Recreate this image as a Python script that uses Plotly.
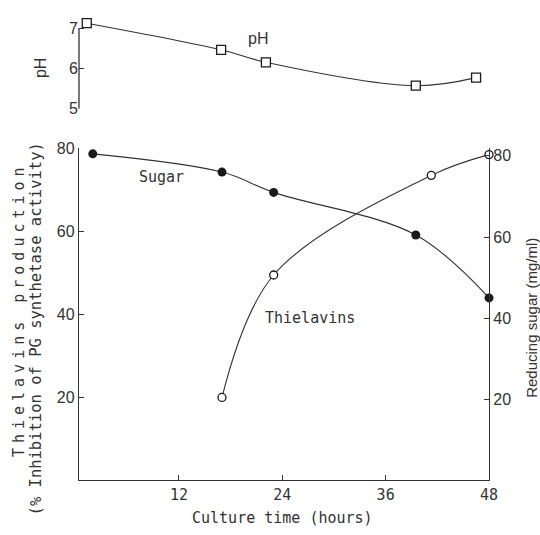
import plotly.graph_objects as go

# Culture time (hours) and measured values
sugar_time = [2, 17, 23, 39.5, 48]
sugar_mg_ml = [80.5, 76, 71, 60.5, 45]

thiel_time = [17, 23, 41.3, 48]
thiel_inhibition = [20, 49.5, 73.5, 78.5]

ph_time = [1.3, 16.9, 22.1, 39.5, 46.5]
ph_value = [7.12, 6.46, 6.15, 5.57, 5.77]

x_ticks = [12, 24, 36, 48]
left_ticks = [20, 40, 60, 80]
right_ticks = [20, 40, 60, 80]
ph_ticks = [5, 6, 7]

W, H = 540, 535
ML, MR = 79, 51
INK = "#333333"
MONO = "DejaVu Sans Mono"
SANS = "Liberation Sans"


def px_x(p):
    return (p - ML) / (W - ML - MR)


def px_y(p):
    return (H - p) / H


fig = go.Figure()

fig.add_trace(go.Scatter(
    x=sugar_time, y=sugar_mg_ml, yaxis="y2", mode="lines+markers",
    line=dict(color=INK, width=1.1, shape="spline", smoothing=1.0),
    marker=dict(symbol="circle", size=9, color="#1a1a1a"),
    cliponaxis=False, showlegend=False, name="Sugar"))

fig.add_trace(go.Scatter(
    x=thiel_time, y=thiel_inhibition, yaxis="y", mode="lines+markers",
    line=dict(color=INK, width=1.1, shape="spline", smoothing=1.0),
    marker=dict(symbol="circle", size=8, color="white",
                line=dict(color="#1a1a1a", width=1.3)),
    cliponaxis=False, showlegend=False, name="Thielavins"))

fig.add_trace(go.Scatter(
    x=ph_time, y=ph_value, yaxis="y3", mode="lines+markers",
    line=dict(color=INK, width=1.1, shape="spline", smoothing=1.0),
    marker=dict(symbol="square", size=9, color="white",
                line=dict(color="#1a1a1a", width=1.3)),
    cliponaxis=False, showlegend=False, name="pH"))

axis_common = dict(showgrid=False, zeroline=False, ticks="inside", ticklen=5,
                   tickwidth=1.2, tickcolor=INK, linecolor=INK, linewidth=1.3)

fig.update_layout(
    width=W, height=H,
    margin=dict(l=ML, r=MR, t=0, b=0),
    paper_bgcolor="white", plot_bgcolor="white",
    xaxis=dict(domain=[0, 1], range=[0.4, 48], tickvals=x_ticks,
               showline=True, anchor="y",
               tickfont=dict(family=MONO, size=15, color=INK), **axis_common),
    yaxis=dict(domain=[px_y(488), px_y(145)], range=[0, 80], tickvals=left_ticks,
               showline=True, anchor="x",
               tickfont=dict(family=SANS, size=16, color=INK), **axis_common),
    yaxis2=dict(overlaying="y", side="right", range=[0, 81.84], tickvals=right_ticks,
                showline=True, anchor="x",
                tickfont=dict(family=SANS, size=16, color=INK), **axis_common),
    yaxis3=dict(domain=[px_y(104), px_y(8.2)], range=[5, 7.3], tickvals=ph_ticks,
                showline=False, anchor="x",
                tickfont=dict(family=SANS, size=16, color=INK), **axis_common),
)

# pH axis line spans only the 5-7 scale
fig.add_shape(type="line", xref="paper", yref="y3", x0=0, x1=0, y0=5, y1=7,
              line=dict(color=INK, width=1.3))


def label(text, x, y, family, size, angle=0):
    fig.add_annotation(text=text, xref="paper", yref="paper", x=px_x(x), y=px_y(y),
                       xanchor="center", yanchor="middle", showarrow=False,
                       textangle=angle, font=dict(family=family, size=size, color=INK))


label("Sugar", 161, 175, MONO, 15)
label("Thielavins", 310, 320, MONO, 15)
label("pH", 258, 32, SANS, 16)
label("pH", 40, 62, SANS, 16, -90)
label("Culture time (hours)", 282, 527, MONO, 15)
label("Reducing sugar (mg/ml)", 532, 320, SANS, 15, -90)
label('<span style="letter-spacing:5px">Thielavins production</span>', 19, 312, MONO, 15, -90)
label("(% Inhibition of PG synthetase activity)", 36, 332, MONO, 15.5, -90)

fig.write_html("out.html")
